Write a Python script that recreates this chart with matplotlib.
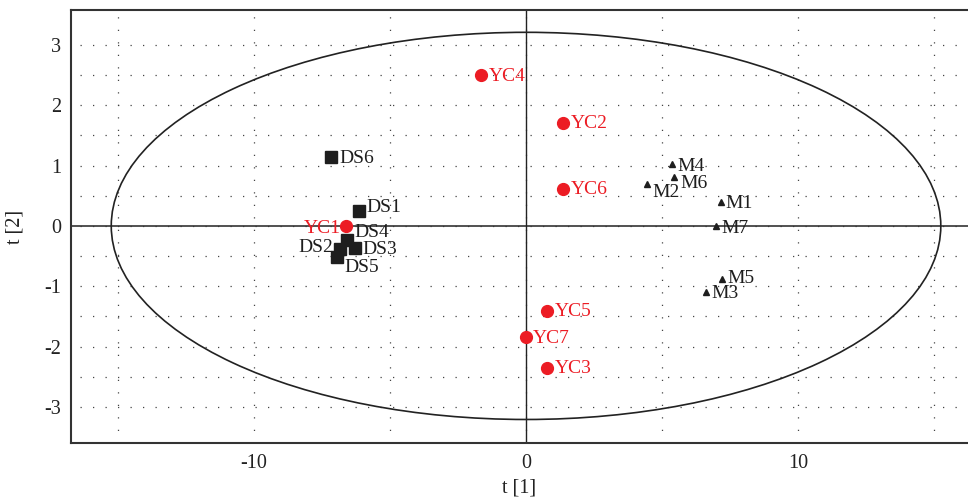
import numpy as np
import matplotlib
matplotlib.use("Agg")
import matplotlib.pyplot as plt
from matplotlib.patches import Ellipse

plt.rcParams['font.family'] = ['Liberation Serif', 'DejaVu Serif']
plt.rcParams['axes.unicode_minus'] = False

# Datos de las puntuaciones (t[1], t[2])
yc_names = ['YC1', 'YC2', 'YC3', 'YC4', 'YC5', 'YC6', 'YC7']
yc_t1 = [-6.63, 1.37, 0.78, -1.67, 0.78, 1.35, 0.0]
yc_t2 = [-0.01, 1.71, -2.35, 2.50, -1.41, 0.62, -1.85]

ds_names = ['DS1', 'DS2', 'DS3', 'DS4', 'DS5', 'DS6']
ds_t1 = [-6.14, -6.84, -6.30, -6.59, -6.96, -7.17]
ds_t2 = [0.25, -0.38, -0.37, -0.23, -0.52, 1.14]

m_names = ['M1', 'M2', 'M3', 'M4', 'M5', 'M6', 'M7']
m_t1 = [7.18, 4.46, 6.63, 5.37, 7.21, 5.45, 7.00]
m_t2 = [0.40, 0.70, -1.09, 1.02, -0.88, 0.81, -0.01]

# Elipse de Hotelling (semiejes)
ell_a = 15.25
ell_b = 3.21

x_ticks = [-10, 0, 10]
y_ticks = [-3, -2, -1, 0, 1, 2, 3]

red = '#ec1c24'
dark = '#1e1e1e'

# Desplazamientos de las etiquetas en píxeles (dx, dy, alineación)
offsets = {
    'YC1': (-5, 0, 'right'), 'DS2': (-7, 3, 'right'),
    'DS1': (7, 5, 'left'), 'DS4': (8, 9, 'left'), 'DS5': (8, -8, 'left'),
    'M6': (6, -4, 'left'), 'M2': (5, -7, 'left'),
    'M1': (4, 0, 'left'), 'M4': (5, 0, 'left'), 'M7': (5, 0, 'left'),
    'M5': (5, 2, 'left'), 'M3': (5, 0, 'left'),
    'YC7': (7, 1, 'left'),
}

fig = plt.figure(figsize=(9.68, 4.99), dpi=100)
ax = fig.add_axes([71 / 968, 1 - 443 / 499, 1 - 71 / 968, (443 - 10) / 499])

ax.set_xlim(-16.73, 16.25)
ax.set_ylim(-3.60, 3.58)

# Rejilla punteada
dot = (0, (1, 9))
for gx in np.arange(-15, 16, 5):
    ax.axvline(gx, color='#444444', lw=0.9, ls=dot, zorder=0)
for gy in np.arange(-3, 3.01, 0.5):
    ax.axhline(gy, xmin=0.01, color='#444444', lw=0.9, ls=dot, zorder=0)

ax.axhline(0, color='#333333', lw=1.2, zorder=1)
ax.axvline(0, color='#222222', lw=1.0, zorder=1)

ax.add_patch(Ellipse((0, 0), 2 * ell_a, 2 * ell_b, fill=False,
                     edgecolor='#222222', lw=1.2, zorder=2))

ax.plot(ds_t1, ds_t2, 's', color=dark, ms=8, zorder=3)
ax.plot(m_t1, m_t2, '^', color=dark, ms=5, zorder=3)
ax.plot(yc_t1, yc_t2, 'o', color=red, ms=8.5, zorder=4)

def label(names, xs, ys, color):
    for n, x, y in zip(names, xs, ys):
        dx, dy, ha = offsets.get(n, (8, 1, 'left'))
        ax.annotate(n, (x, y), xytext=(dx * 0.72, dy * 0.72),
                    textcoords='offset points', ha=ha, va='center_baseline',
                    fontsize=14, color=color, zorder=5)

label(yc_names, yc_t1, yc_t2, red)
label(ds_names, ds_t1, ds_t2, '#1e1e1e')
label(m_names, m_t1, m_t2, '#1e1e1e')

ax.set_xticks(x_ticks)
ax.set_yticks(y_ticks)
ax.tick_params(length=0, labelsize=14.5, colors='#222222')
ax.tick_params(axis='x', pad=8)
ax.tick_params(axis='y', pad=7)

for s in ['left', 'top', 'bottom']:
    ax.spines[s].set_color('#333333')
    ax.spines[s].set_linewidth(1.5)
ax.spines['right'].set_visible(False)

ax.set_xlabel('t [1]', fontsize=14.5, color='#222222', labelpad=4)
ax.set_ylabel('t [2]', fontsize=14.5, color='#222222', labelpad=14)

fig.savefig('out.png', dpi=100)
